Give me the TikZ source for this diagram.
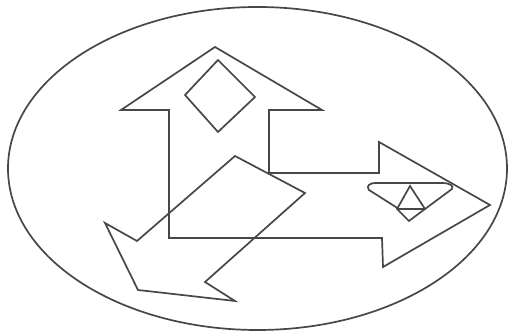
\documentclass[tikz,border=0pt]{standalone}
\begin{document}
\begin{tikzpicture}[x=0.5pt,y=-0.5pt,
  outl/.style={draw=black!72,line width=0.85pt,line join=miter}]
\useasboundingbox (0,0) rectangle (509,335);
% big ellipse
\draw[outl] (257.5,168.5) ellipse [x radius=124.75pt, y radius=80.75pt];
% up arrow joined with right arrow
\draw[outl] (169,238) -- (169,110) -- (121,110) -- (215,47) -- (322,110)
  -- (269,110) -- (269,173) -- (379,173) -- (379,142) -- (490,205)
  -- (383,267) -- (382,238) -- cycle;
% diamond in up arrow
\draw[outl] (218,60) -- (255,97) -- (218,132) -- (185,95) -- cycle;
% down-left arrow
\draw[outl] (235,156) -- (305,193) -- (205,282) -- (235,301) -- (138,290)
  -- (105,223) -- (137,241) -- cycle;
% small shape in right arrow
\draw[outl] (399,209) -- (369,190) .. controls (366,186) and (369,183) .. (376,183)
  -- (442,183) .. controls (450,183) and (454,186) .. (452,189) -- (425,209) -- cycle;
\draw[outl] (410,186) -- (425,209) -- (409,221) -- (397,209) -- cycle;
\end{tikzpicture}
\end{document}
